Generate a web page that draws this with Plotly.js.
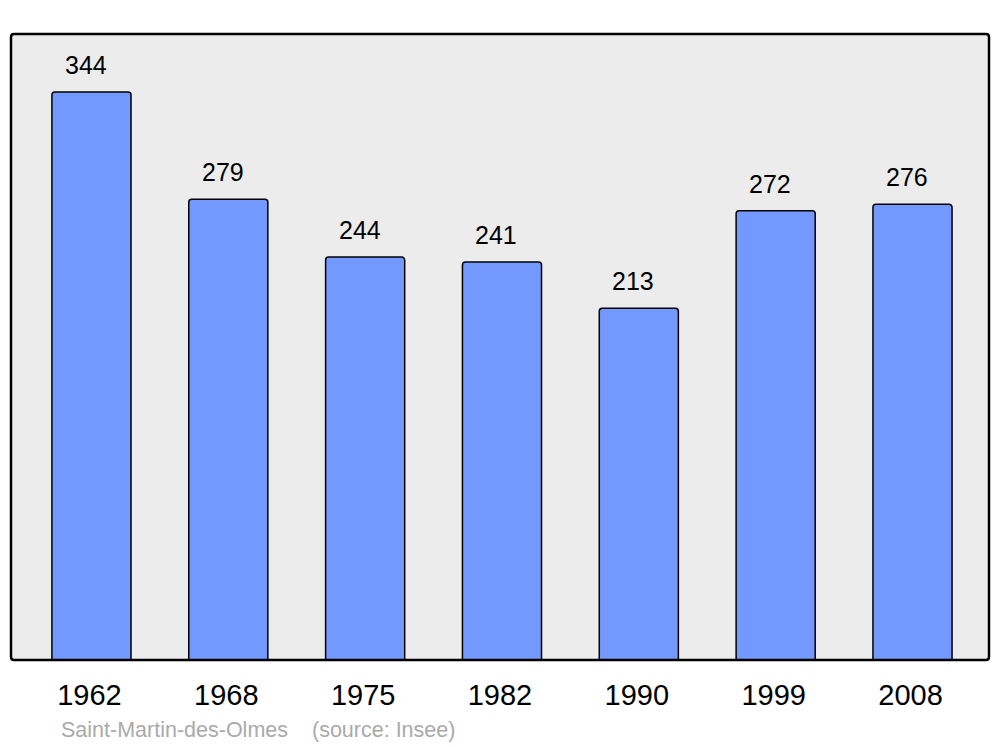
<!DOCTYPE html>
<html><head><meta charset="utf-8">
<script src="https://cdn.plot.ly/plotly-3.0.1.min.js"></script>
<style>html,body{margin:0;padding:0;background:#fff}#chart{width:1000px;height:747px}</style>
</head><body><div id="chart"></div>
<script>
const years = ["1962","1968","1975","1982","1990","1999","2008"];
const population = [344, 279, 244, 241, 213, 272, 276];
const sourceLabel = "Saint-Martin-des-Olmes";
const sourceNote = "(source: Insee)";

const FONT = "Liberation Sans, Arial, sans-serif";
const W = 1000, H = 747, L = 11, R = 11, T = 34, B = 87;
const pw = W - L - R, ph = H - T - B;
const rx = 3 / pw, ry = 3 / ph;
const framePath = `M ${rx} 0 L ${1-rx} 0 Q 1 0 1 ${ry} L 1 ${1-ry} Q 1 1 ${1-rx} 1 L ${rx} 1 Q 0 1 0 ${1-ry} L 0 ${ry} Q 0 0 ${rx} 0 Z`;

const annotations = years.map((y, i) => ({
  x: i, y: population[i], xref: 'x', yref: 'y',
  text: String(population[i]), showarrow: false,
  yanchor: 'bottom', yshift: 11, xshift: -5.5,
  font: {family: FONT, size: 25, color: '#000'}
}));
annotations.push({
  xref: 'paper', yref: 'paper', x: (59 - L) / pw, y: -(730 - (T + ph)) / ph,
  xanchor: 'left', yanchor: 'middle', showarrow: false,
  text: sourceLabel, font: {family: FONT, size: 21.5, color: '#aaaaaa'}
});
annotations.push({
  xref: 'paper', yref: 'paper', x: (310 - L) / pw, y: -(730 - (T + ph)) / ph,
  xanchor: 'left', yanchor: 'middle', showarrow: false,
  text: sourceNote, font: {family: FONT, size: 21.5, color: '#aaaaaa'}
});

Plotly.newPlot('chart', [{
  type: 'bar', x: years, y: population, width: 0.578,
  marker: {color: '#7399ff', line: {color: '#000', width: 1.5}, cornerradius: 3},
  hoverinfo: 'none'
}], {
  width: W, height: H,
  margin: {l: L, r: R, t: T, b: B, pad: 0},
  paper_bgcolor: '#ffffff', plot_bgcolor: '#ececec',
  showlegend: false,
  xaxis: {type: 'category', range: [-0.588, 6.559], showgrid: false, zeroline: false,
    showline: false, ticks: '', ticklabelstandoff: 15, ticklabelshift: -2,
    tickfont: {family: FONT, size: 29, color: '#000'}},
  yaxis: {range: [0, 379.1], showgrid: false, zeroline: false, showline: false,
    showticklabels: false, ticks: ''},
  shapes: [{type: 'path', xref: 'paper', yref: 'paper', path: framePath,
    line: {color: '#000', width: 2.5}, fillcolor: 'rgba(0,0,0,0)', layer: 'above'}],
  annotations: annotations
}, {staticPlot: true});
</script></body></html>
